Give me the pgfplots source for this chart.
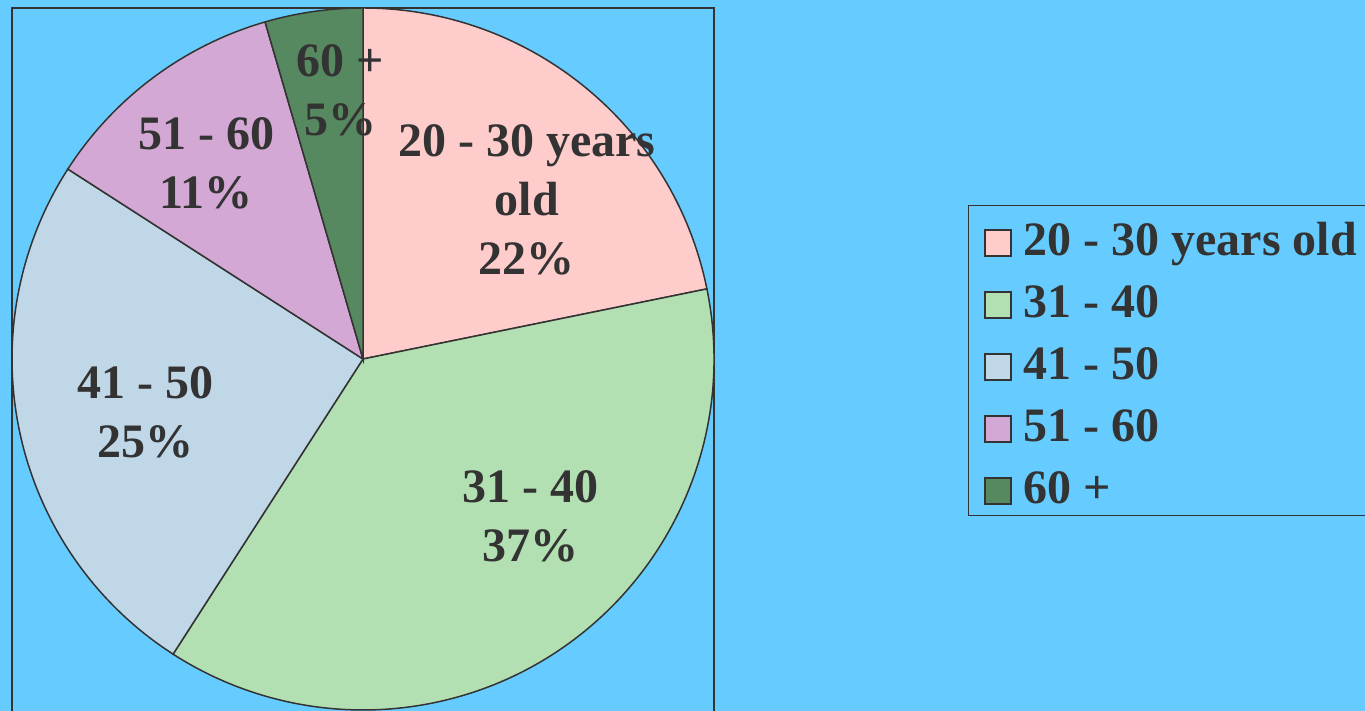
\documentclass[border=0pt]{standalone}
\usepackage{pgfplots}
\pgfplotsset{compat=1.18}
\usepackage{pgfplotstable}
\usepackage{fontspec}
\setmainfont{Liberation Serif}
\definecolor{bg}{RGB}{102,204,255}
\definecolor{ink}{RGB}{51,51,51}
\definecolor{slice0}{RGB}{255,204,204}
\definecolor{slice1}{RGB}{178,224,178}
\definecolor{slice2}{RGB}{192,215,231}
\definecolor{slice3}{RGB}{212,168,212}
\definecolor{slice4}{RGB}{86,137,96}

% age group shares (percent), clockwise from 12 o'clock
\pgfplotstableread[col sep=comma]{
value
21.8
37.3
25.0
11.4
4.5
}\agedata

\begin{document}
\begin{tikzpicture}
\path[use as bounding box] (0,0) rectangle (682.5pt,355.5pt);
\fill[bg] (0,0) rectangle (682.5pt,355.5pt);

\def\cum{0}
\pgfplotsforeachungrouped \i in {0,...,4}{%
  \pgfplotstablegetelem{\i}{value}\of\agedata
  \let\myval\pgfplotsretval
  \pgfmathsetmacro\mys{90-3.6*\cum}%
  \pgfmathsetmacro\cum{\cum+\myval}%
  \pgfmathsetmacro\mye{90-3.6*\cum}%
  \expandafter\xdef\csname sa\i\endcsname{\mys}%
  \expandafter\xdef\csname ea\i\endcsname{\mye}%
}

\begin{axis}[
  at={(6pt,-0.5pt)}, anchor=south west,
  x=175.5pt, y=175.5pt,
  xmin=-1, xmax=1, ymin=-1.0057, ymax=1,
  xtick=\empty, ytick=\empty,
  axis line style={ink, line width=0.75pt},
  clip=false,
  legend style={
    at={(axis description cs:1.3618,0.7202)}, anchor=north west,
    draw=ink, line width=0.75pt, fill=none, text=ink,
    font=\bfseries\fontsize{24pt}{28pt}\selectfont,
    inner xsep=7.5pt, inner ysep=2pt,
    nodes={inner sep=0pt, text height=23pt, text depth=4pt},
    row sep=4pt, column sep=6pt,
  },
  legend cell align=left,
  legend image code/.code={\draw[#1, draw=ink, line width=0.9pt] (0pt,-9.5pt) rectangle (13pt,3.5pt);},
]
\pgfplotsforeachungrouped \i in {0,...,4}{%
  \edef\temp{\noexpand\filldraw[fill=slice\i, draw=ink, line width=0.75pt]
    (axis cs:0,0) -- ++(\csname sa\i\endcsname:175.5pt)
    arc[start angle=\csname sa\i\endcsname, end angle=\csname ea\i\endcsname, radius=175.5pt] -- cycle;}%
  \temp
}
\addlegendimage{fill=slice0}\addlegendentry{20 - 30 years old\hspace{6pt}}
\addlegendimage{fill=slice1}\addlegendentry{31 - 40}
\addlegendimage{fill=slice2}\addlegendentry{41 - 50}
\addlegendimage{fill=slice3}\addlegendentry{51 - 60}
\addlegendimage{fill=slice4}\addlegendentry{60 +}

\tikzset{lbl/.style={font=\bfseries\fontsize{24pt}{29.5pt}\selectfont, text=ink, align=center, inner sep=0pt}}
\node[lbl] at (axis cs:0.467,0.453) {20 - 30 years\\old\\22\%};
\node[lbl] at (axis cs:0.476,-0.447) {31 - 40\\37\%};
\node[lbl] at (axis cs:-0.621,-0.151) {41 - 50\\25\%};
\node[lbl] at (axis cs:-0.447,0.556) {51 - 60\\11\%};
\node[lbl] at (axis cs:-0.0655,0.764) {60 +\\5\%};
\end{axis}
\end{tikzpicture}
\end{document}
